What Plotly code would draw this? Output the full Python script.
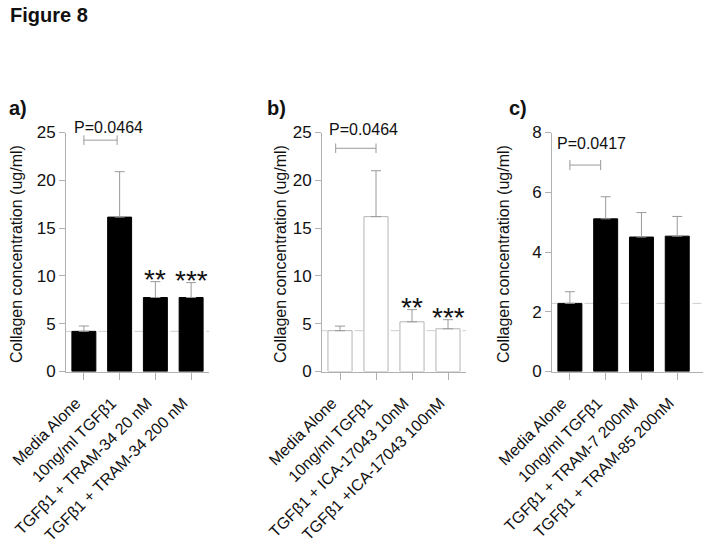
import plotly.graph_objects as go

# ---------------- data ----------------
cats_a = ["Media Alone", "10ng/ml TGFβ1", "TGFβ1 + TRAM-34 20 nM", "TGFβ1 + TRAM-34 200 nM"]
cats_b = ["Media Alone", "10ng/ml TGFβ1", "TGFβ1 + ICA-17043 10nM", "TGFβ1 +ICA-17043 100nM"]
cats_c = ["Media Alone", "10ng/ml TGFβ1", "TGFβ1 + TRAM-7 200nM", "TGFβ1 + TRAM-85 200nM"]

mean_a = [4.2, 16.15, 7.74, 7.74]
top_a = [4.76, 20.9, 9.4, 9.3]
mean_b = [4.27, 16.2, 5.2, 4.47]
top_b = [4.75, 21.0, 6.47, 5.42]
mean_c = [2.28, 5.11, 4.5, 4.53]
top_c = [2.67, 5.85, 5.32, 5.19]

stars_a = ["", "", "**", "***"]
stars_b = ["", "", "**", "***"]

pval_a = "P=0.0464"
pval_b = "P=0.0464"
pval_c = "P=0.0417"
bracket_y = [24.2, 23.35, 6.91]

ticks_ab = [0, 5, 10, 15, 20, 25]
ticks_c = [0, 2, 4, 6, 8]

# ---------------- figure ----------------
W, H = 704, 544
FONT = "Arial, Liberation Sans, sans-serif"
AX = "#b0b0b0"
ERR = "#9a9a9a"

fig = go.Figure()

panels = [
    ("x", "y", cats_a, mean_a, top_a, "black", "black"),
    ("x2", "y2", cats_b, mean_b, top_b, "white", "#b5b5b5"),
    ("x3", "y3", cats_c, mean_c, top_c, "black", "black"),
]

for xr, yr, cats, mean, top, fill, line in panels:
    idx = list(range(len(cats)))
    fig.add_trace(go.Bar(
        x=idx, y=mean, xaxis=xr, yaxis=yr, width=0.67,
        marker=dict(color=fill, line=dict(color=line, width=1)),
        error_y=dict(type="data", symmetric=False,
                     array=[t - m for t, m in zip(top, mean)],
                     arrayminus=[0] * len(mean),
                     color=ERR, thickness=1, width=5),
        showlegend=False, hoverinfo="skip",
    ))

def px2x(p0, p1):
    return [p0 / W, p1 / W]

ydom = [1 - 371.5 / H, 1 - 132.5 / H]
xdoms = [px2x(66, 209), px2x(322, 466), px2x(552, 703)]
xranges = [[-0.5, 3.5], [-0.5, 3.5], [-0.5, 3.72]]

layout = dict(
    width=W, height=H, margin=dict(l=0, r=0, t=0, b=0, autoexpand=False),
    plot_bgcolor="white", paper_bgcolor="white",
    font=dict(family=FONT, color="#111111"),
)
cat_lists = [cats_a, cats_b, cats_c]
yranges = [[0, 25], [0, 25], [0, 8]]
ytick_lists = [ticks_ab, ticks_ab, ticks_c]
for i in range(3):
    sfx = "" if i == 0 else str(i + 1)
    layout["xaxis" + sfx] = dict(
        domain=xdoms[i], range=xranges[i], anchor="y" + sfx, automargin=False,
        tickmode="array", tickvals=list(range(4)), ticktext=cat_lists[i],
        tickangle=-45, tickfont=dict(size=16, family=FONT, color="#111"),
        ticklabelstandoff=8, ticklabelshift=-8,
        showline=True, linecolor=AX, linewidth=1,
        ticks="outside", ticklen=7, tickcolor=AX,
        showgrid=False, zeroline=False,
    )
    layout["yaxis" + sfx] = dict(
        domain=ydom, range=yranges[i], anchor="x" + sfx, automargin=False,
        tickmode="array", tickvals=ytick_lists[i],
        tickfont=dict(size=17, family=FONT, color="#111"),
        showline=True, linecolor=AX, linewidth=1,
        ticks="outside", ticklen=6, tickcolor=AX,
        showgrid=False, zeroline=False,
    )
fig.update_layout(**layout)

axes = [("x", "y"), ("x2", "y2"), ("x3", "y3")]
means = [mean_a, mean_b, mean_c]

# dashed baseline (media alone level)
for i, (xr, yr) in enumerate(axes):
    m0 = means[i][0]
    fig.add_shape(type="line", xref=xr, yref=yr, x0=-0.6, x1=xranges[i][1] + 0.1, y0=m0, y1=m0,
                  line=dict(color="#cfcfcf", width=1, dash="dash"), layer="below")

# brackets
tick_h = [0.5, 0.5, 0.17]
bx = [(0.0, 0.93), (-0.12, 1.0), (0.0, 0.86)]
for i, (xr, yr) in enumerate(axes):
    y0 = bracket_y[i]
    x0, x1 = bx[i]
    fig.add_shape(type="line", xref=xr, yref=yr, x0=x0, x1=x1, y0=y0, y1=y0,
                  line=dict(color=ERR, width=1))
    for xx in (x0, x1):
        fig.add_shape(type="line", xref=xr, yref=yr, x0=xx, x1=xx,
                      y0=y0 - tick_h[i], y1=y0 + tick_h[i], line=dict(color=ERR, width=1))

# p-value labels (positioned relative to each axis' domain)
for i, (txt, xx, yy) in enumerate([(pval_a, 0.675, 25.5), (pval_b, 0.653, 25.3), (pval_c, 0.59, 7.63)]):
    xr, yr = axes[i]
    fig.add_annotation(xref=xr, yref=yr + " domain", x=xx, y=yy / yranges[i][1], text=txt,
                       showarrow=False, xanchor="center", yanchor="middle",
                       font=dict(size=16, family=FONT, color="#111"))

# significance stars
for (xr, yr), stars, top in [(axes[0], stars_a, top_a), (axes[1], stars_b, top_b)]:
    for j, s in enumerate(stars):
        if s:
            fig.add_annotation(xref=xr, yref=yr, x=j, y=top[j], text=s, showarrow=False,
                               xanchor="center", yanchor="bottom", yshift=-15,
                               font=dict(size=28, family=FONT, color="#111"))

# y-axis titles
for xc in [16, 280, 503]:
    fig.add_annotation(xref="paper", yref="paper", x=xc / W, y=1 - 254 / H,
                       text="Collagen concentration (ug/ml)", textangle=-90, showarrow=False,
                       xanchor="center", yanchor="middle",
                       font=dict(size=16, family=FONT, color="#111"))

# panel letters
for (lab, xl) in [("a)", 7), ("b)", 265), ("c)", 507)]:
    fig.add_annotation(xref="paper", yref="paper", x=xl / W, y=1 - 108 / H, text="<b>%s</b>" % lab,
                       showarrow=False, xanchor="left", yanchor="middle",
                       font=dict(size=20, family=FONT, color="#111"))

fig.add_annotation(xref="paper", yref="paper", x=8 / W, y=1 - 15 / H, text="<b>Figure 8</b>",
                   showarrow=False, xanchor="left", yanchor="middle",
                   font=dict(size=20, family=FONT, color="#111"))

fig.write_html("out.html", config={"displayModeBar": False},
               post_script="document.body.style.margin='0px';document.body.style.padding='0px';")
